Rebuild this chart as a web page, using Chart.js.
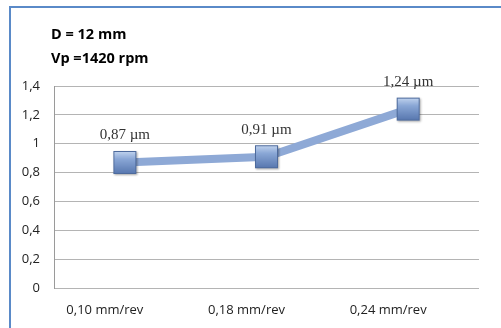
<!DOCTYPE html>
<html>
<head>
<meta charset="utf-8">
<script src="https://cdn.jsdelivr.net/npm/chart.js@4/dist/chart.umd.min.js"></script>
<style>
  html, body { margin: 0; padding: 0; background: #fff; }
  #wrap { position: relative; width: 501px; height: 328px; overflow: hidden; }
  #frame { position: absolute; left: 9px; top: 6px; width: 600px; height: 400px;
           border-left: 2px solid #5a8ac8; border-top: 2px solid #5a8ac8; }
  #c { position: absolute; left: 0; top: 0; }
</style>
</head>
<body>
<div id="wrap">
  <div id="frame"></div>
  <canvas id="c" width="501" height="328"></canvas>
</div>
<script>
// Feed rate categories and measured roughness (Ra, µm)
const categories = ['0,10 mm/rev', '0,18 mm/rev', '0,24 mm/rev'];
const roughness = [0.87, 0.91, 1.24];
const yTicks = [0, 0.2, 0.4, 0.6, 0.8, 1, 1.2, 1.4];
const headerLines = ['D = 12 mm', 'Vp =1420 rpm'];

const fmt = v => String(v).replace('.', ',');

// Square marker with a soft bevel-like gradient
function makeMarker(size) {
  const pad = 3;
  const cv = document.createElement('canvas');
  cv.width = size + pad * 2; cv.height = size + pad * 2;
  const g = cv.getContext('2d');
  g.shadowColor = 'rgba(0,0,0,0.35)';
  g.shadowBlur = 2; g.shadowOffsetX = 1; g.shadowOffsetY = 1;
  const grad = g.createLinearGradient(0, pad, 0, pad + size);
  grad.addColorStop(0, '#c3d5ef');
  grad.addColorStop(0.35, '#8aa7d6');
  grad.addColorStop(1, '#5676ae');
  g.fillStyle = grad;
  g.fillRect(pad, pad, size, size);
  g.shadowColor = 'transparent';
  g.strokeStyle = '#4d6a9c';
  g.lineWidth = 1;
  g.strokeRect(pad + 0.5, pad + 0.5, size - 1, size - 1);
  return cv;
}
const marker = makeMarker(23);

const headerPlugin = {
  id: 'header',
  afterDraw(chart) {
    const ctx = chart.ctx;
    ctx.save();
    ctx.font = 'bold 14.5px "Open Sans", sans-serif';
    ctx.fillStyle = '#000';
    ctx.textBaseline = 'middle';
    ctx.textAlign = 'left';
    headerLines.forEach((t, i) => ctx.fillText(t, 51, 35 + i * 24));
    ctx.restore();
  }
};

const valueLabels = {
  id: 'valueLabels',
  afterDatasetsDraw(chart) {
    const ctx = chart.ctx;
    const meta = chart.getDatasetMeta(0);
    ctx.save();
    ctx.font = '15px "Liberation Serif", serif';
    ctx.fillStyle = '#333';
    ctx.textAlign = 'center';
    ctx.textBaseline = 'middle';
    meta.data.forEach((pt, i) => {
      ctx.fillText(fmt(roughness[i].toFixed(2)) + ' µm', pt.x, pt.y - 27);
    });
    ctx.restore();
  }
};

new Chart(document.getElementById('c'), {
  type: 'line',
  data: {
    labels: categories,
    datasets: [{
      data: roughness,
      borderColor: '#8ea9d6',
      borderWidth: 8,
      tension: 0,
      pointStyle: marker,
      pointRadius: 14,
      pointHoverRadius: 14
    }]
  },
  options: {
    responsive: false,
    animation: false,
    events: [],
    layout: { padding: { left: 0, top: 86, right: 13, bottom: 0 } },
    plugins: { legend: { display: false }, tooltip: { enabled: false }, title: { display: false } },
    scales: {
      x: {
        offset: true,
        grid: { display: false, drawTicks: false },
        border: { display: false },
        ticks: {
          padding: 14,
          labelOffset: -20,
          color: '#222',
          font: { family: '"Open Sans", sans-serif', size: 13 }
        },
        afterFit(s) { s.height = 40; }
      },
      y: {
        min: 0, max: 1.4,
        afterBuildTicks(s) { s.ticks = yTicks.map(v => ({ value: v })); },
        grid: { color: '#b4b4b4', lineWidth: 1, drawTicks: false },
        border: { color: '#9a9a9a', width: 1 },
        ticks: {
          padding: 14,
          color: '#222',
          font: { family: '"Open Sans", sans-serif', size: 13 },
          callback: v => fmt(v)
        },
        afterFit(s) { s.width = 54; }
      }
    }
  },
  plugins: [headerPlugin, valueLabels]
});
</script>
</body>
</html>
